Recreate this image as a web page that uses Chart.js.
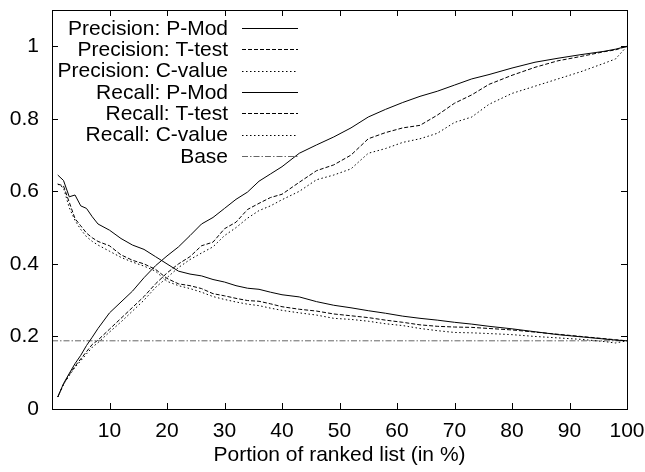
<!DOCTYPE html>
<html><head><meta charset="utf-8">
<script src="https://cdn.jsdelivr.net/npm/chart.js@4/dist/chart.umd.min.js"></script>
<style>html,body{margin:0;padding:0;background:#fff}</style>
</head><body>
<canvas id="c" width="645" height="472" style="display:block;width:645px;height:472px"></canvas>
<script>
// ---- data ----
const portion = [1,2,3,4,5,6,7,8,10,12,14,16,18,20,22,24,26,28,30,32,34,36,38,40,43,46,49,52,55,58,61,64,67,70,73,76,80,84,88,92,96,98,100];
const precisionPMod = [0.645,0.63,0.585,0.59,0.56,0.553,0.53,0.51,0.493,0.47,0.452,0.44,0.42,0.40,0.38,0.372,0.367,0.357,0.35,0.34,0.333,0.33,0.322,0.315,0.309,0.296,0.286,0.279,0.271,0.264,0.256,0.25,0.245,0.239,0.234,0.228,0.221,0.213,0.205,0.199,0.193,0.19,0.188];
const precisionTTest = [0.62,0.615,0.57,0.525,0.505,0.485,0.472,0.462,0.45,0.425,0.41,0.40,0.385,0.36,0.345,0.34,0.332,0.318,0.312,0.305,0.299,0.297,0.29,0.282,0.275,0.27,0.262,0.257,0.252,0.245,0.239,0.232,0.228,0.226,0.225,0.222,0.218,0.212,0.206,0.2,0.194,0.191,0.188];
const precisionCValue = [0.62,0.61,0.555,0.52,0.495,0.475,0.462,0.452,0.435,0.418,0.405,0.394,0.38,0.352,0.34,0.332,0.322,0.31,0.302,0.295,0.289,0.285,0.278,0.272,0.265,0.259,0.25,0.247,0.242,0.235,0.23,0.222,0.216,0.211,0.21,0.208,0.205,0.2,0.196,0.192,0.186,0.182,0.188];
const recallPMod = [0.033,0.07,0.098,0.125,0.148,0.175,0.198,0.222,0.265,0.295,0.325,0.362,0.395,0.422,0.447,0.478,0.51,0.528,0.553,0.578,0.598,0.628,0.648,0.668,0.705,0.728,0.75,0.775,0.805,0.826,0.845,0.862,0.876,0.893,0.91,0.922,0.94,0.956,0.967,0.977,0.986,0.992,1.0];
const recallTTest = [0.033,0.068,0.095,0.118,0.138,0.158,0.178,0.19,0.22,0.25,0.28,0.31,0.345,0.375,0.4,0.42,0.45,0.46,0.497,0.515,0.55,0.567,0.583,0.592,0.625,0.657,0.673,0.7,0.745,0.762,0.775,0.782,0.81,0.843,0.866,0.895,0.92,0.942,0.96,0.972,0.985,0.99,1.0];
const recallCValue = [0.033,0.068,0.092,0.115,0.133,0.152,0.17,0.183,0.212,0.24,0.27,0.3,0.335,0.362,0.39,0.412,0.43,0.447,0.478,0.5,0.526,0.547,0.56,0.577,0.6,0.632,0.645,0.662,0.705,0.718,0.735,0.745,0.76,0.79,0.805,0.84,0.87,0.89,0.91,0.93,0.953,0.965,1.0];
const baseX = [0, 100];
const baseY = [0.188, 0.188];
const seriesLabels = ['Precision: P-Mod','Precision: T-test','Precision: C-value','Recall: P-Mod','Recall: T-test','Recall: C-value','Base'];
const xTicks = [10,20,30,40,50,60,70,80,90,100];
const yTicks = [0,0.2,0.4,0.6,0.8,1];
const yTickLabels = ['0','0.2','0.4','0.6','0.8','1'];
const xTitle = 'Portion of ranked list (in %)';

// ---- styling ----
const FONT = '"Liberation Sans", Arial, Helvetica, sans-serif';
const FS = 21;
const SOLID = [], DASHED = [4,2], DOTTED = [1.5,2.5], DASHDOT = [6,2,1.5,2];
function pts(xs, ys){ return xs.map((x,i)=>({x:x, y:ys[i]})); }
function ds(label, xs, ys, dash, color){
  return {label, data: pts(xs, ys), borderColor: color, borderWidth: 1, borderDash: dash,
          pointRadius: 0, tension: 0, fill: false};
}
const datasets = [
  ds(seriesLabels[0], portion, precisionPMod, SOLID, '#000'),
  ds(seriesLabels[1], portion, precisionTTest, DASHED, '#000'),
  ds(seriesLabels[2], portion, precisionCValue, DOTTED, '#000'),
  ds(seriesLabels[3], portion, recallPMod, SOLID, '#000'),
  ds(seriesLabels[4], portion, recallTTest, DASHED, '#000'),
  ds(seriesLabels[5], portion, recallCValue, DOTTED, '#000'),
  ds(seriesLabels[6], baseX, baseY, DASHDOT, '#666')
];

const framePlugin = {
  id: 'frame',
  afterDatasetsDraw(chart){
    const {ctx, chartArea: a, scales} = chart;
    ctx.save();
    ctx.strokeStyle = '#000'; ctx.lineWidth = 1; ctx.setLineDash([]);
    ctx.strokeRect(Math.round(a.left)+0.5, Math.round(a.top)+0.5, Math.round(a.right-a.left), Math.round(a.bottom-a.top));
    const L = 6;
    ctx.beginPath();
    xTicks.forEach(v=>{
      const p = Math.round(scales.x.getPixelForValue(v))+0.5;
      ctx.moveTo(p, a.bottom); ctx.lineTo(p, a.bottom-L);
      ctx.moveTo(p, a.top); ctx.lineTo(p, a.top+L);
    });
    yTicks.forEach(v=>{
      const p = Math.round(scales.y.getPixelForValue(v))+0.5;
      ctx.moveTo(a.left, p); ctx.lineTo(a.left+L, p);
      ctx.moveTo(a.right, p); ctx.lineTo(a.right-L, p);
    });
    ctx.stroke();
    ctx.restore();
  }
};

const keyPlugin = {
  id: 'key',
  afterDraw(chart){
    const ctx = chart.ctx;
    ctx.save();
    ctx.font = FS + 'px ' + FONT;
    ctx.fillStyle = '#000';
    ctx.textAlign = 'right';
    ctx.textBaseline = 'middle';
    chart.data.datasets.forEach((d, i)=>{
      const y = 28 + i*21.3;
      ctx.fillText(d.label, 228, y+1);
      ctx.beginPath();
      ctx.strokeStyle = d.borderColor; ctx.lineWidth = 1; ctx.setLineDash(d.borderDash);
      ctx.moveTo(242, Math.round(y)+0.5); ctx.lineTo(298, Math.round(y)+0.5);
      ctx.stroke();
    });
    ctx.restore();
  }
};

new Chart(document.getElementById('c'), {
  type: 'line',
  data: { datasets },
  options: {
    responsive: false, animation: false, devicePixelRatio: 1,
    layout: { padding: { left: 0, right: 18, top: 10, bottom: 0 } },
    plugins: { legend: { display: false }, tooltip: { enabled: false } },
    scales: {
      x: {
        type: 'linear', min: 0, max: 100,
        grid: { display: false, drawTicks: false }, border: { display: false },
        afterBuildTicks(s){ s.ticks = xTicks.map(v=>({value:v})); },
        afterFit(s){ s.height = 63; s.paddingLeft = 0; s.paddingRight = 0; },
        ticks: { autoSkip: false, maxRotation: 0, padding: 10, color: '#000', font: { family: FONT, size: FS } },
        title: { display: true, text: xTitle, color: '#000', font: { family: FONT, size: FS }, padding: { top: 0, bottom: 4 } }
      },
      y: {
        type: 'linear', min: 0, max: 1.1,
        grid: { display: false, drawTicks: false }, border: { display: false },
        afterBuildTicks(s){ s.ticks = yTicks.map(v=>({value:v})); },
        afterFit(s){ s.width = 52; s.paddingTop = 0; s.paddingBottom = 0; },
        ticks: { padding: 13, color: '#000', font: { family: FONT, size: FS },
                 callback(v, i){ return yTickLabels[i]; } }
      }
    }
  },
  plugins: [framePlugin, keyPlugin]
});
</script>
</body></html>
